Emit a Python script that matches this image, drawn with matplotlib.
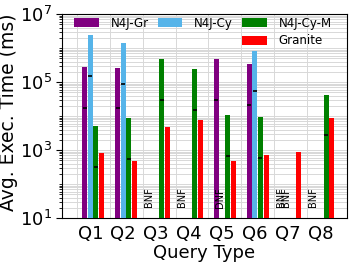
import numpy as np
import matplotlib
matplotlib.use("Agg")
import matplotlib.pyplot as plt
from matplotlib.patches import Rectangle
from matplotlib.ticker import LogLocator, NullFormatter

queries = ["Q1", "Q2", "Q3", "Q4", "Q5", "Q6", "Q7", "Q8"]
systems = ["N4J-Gr", "N4J-Cy", "N4J-Cy-M", "Granite"]
colors = ["#800080", "#56B4E9", "#008000", "#ff0000"]

# avg exec time (ms), None = did not finish
n4j_gr = [2.8e5, 2.6e5, None, None, 4.7e5, 3.4e5, None, None]
n4j_cy = [2.4e6, 1.4e6, None, None, None, 8.2e5, None, None]
n4j_cym = [5.0e3, 8.7e3, 4.7e5, 2.4e5, 1.07e4, 9.3e3, None, 4.2e4]
granite = [820, 490, 4.6e3, 7.6e3, 490, 730, 860, 8.8e3]
series = [n4j_gr, n4j_cy, n4j_cym, granite]

# black dash markers drawn inside the bars
mark_gr = [1.7e4, 1.7e4, None, None, 3.0e4, 2.1e4, None, None]
mark_cy = [1.5e5, 8.8e4, None, None, None, 5.5e4, None, None]
mark_cym = [320, 530, 3.0e4, 1.5e4, 680, 570, None, 2.7e3]
marks = [mark_gr, mark_cy, mark_cym, [None] * 8]

# (query index, system index, label) for missing bars
notes = [(2, 0, "BNF"), (3, 0, "BNF"), (4, 1, "DNF"),
         (6, 0, "BNF"), (6, 1, "BNF"), (7, 0, "BNF")]

fig = plt.figure(figsize=(3.57, 2.71), dpi=100)
ax = fig.add_axes([62/357, 53/271, 285/357, 204/271])

x = np.arange(len(queries))
step, w = 0.17, 0.15
for k, (vals, mk) in enumerate(zip(series, marks)):
    pos = x + (k - 1) * step
    h = [v if v is not None else 0 for v in vals]
    ax.bar(pos, h, w, color=colors[k], label=systems[k], zorder=3)
    for p, m in zip(pos, mk):
        if m is not None:
            ax.hlines(m, p - 0.06, p + 0.06, color="k", lw=1.2, zorder=4)

for qi, si, txt in notes:
    ax.text(x[qi] + (si - 1) * step - 0.05, 40, txt, rotation=90,
            ha="center", va="center", fontsize=7, zorder=4)

ax.set_yscale("log")
ax.set_ylim(10, 1e7)
ax.set_xlim(-0.86, 7.8)
ax.set_yticks([1e1, 1e3, 1e5, 1e7])
ax.yaxis.set_minor_locator(LogLocator(base=10, subs=np.arange(1, 10), numticks=20))
ax.yaxis.set_minor_formatter(NullFormatter())
ax.set_xticks(x)
ax.set_xticklabels(queries)
ax.set_xticks(x - 0.41, minor=True)
ax.tick_params(axis="x", which="both", length=0, labelsize=13, pad=5)
ax.tick_params(axis="y", which="major", labelsize=13, length=4)
ax.tick_params(axis="y", which="minor", length=2)
ax.grid(axis="y", which="both", color="#d8d8d8", lw=0.7, zorder=0)
ax.grid(axis="x", which="minor", color="#d8d8d8", lw=0.7, zorder=0)
ax.set_xlabel("Query Type", fontsize=13, labelpad=1)
ax.set_ylabel("Avg. Exec. Time (ms)", fontsize=13.5)
ax.yaxis.set_label_coords(-0.155, 0.52)

hs, ls = ax.get_legend_handles_labels()
blank = Rectangle((0, 0), 1, 1, visible=False)
order = [hs[0], blank, hs[1], blank, hs[2], hs[3]]
labs = [ls[0], "", ls[1], "", ls[2], ls[3]]
ax.legend(order, labs, ncol=3, loc="upper left", bbox_to_anchor=(0.042, 0.985),
          frameon=False, fontsize=8.5, handlelength=2.1, handleheight=0.8,
          handletextpad=1.0, columnspacing=0.75, labelspacing=0.35,
          borderpad=0, borderaxespad=0)

fig.savefig("out.png", dpi=100)
